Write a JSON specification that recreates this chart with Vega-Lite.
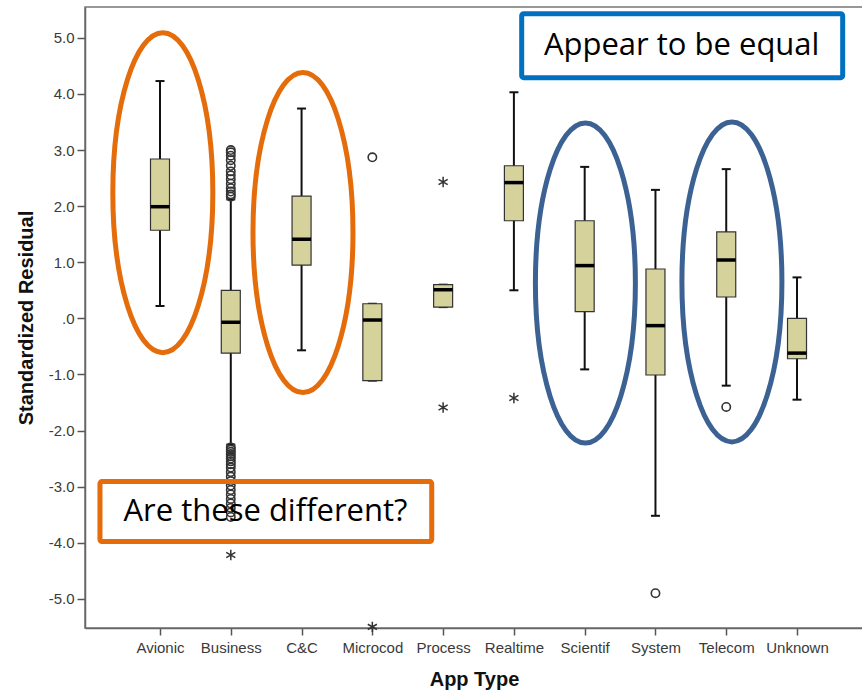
{
  "$schema": "https://vega.github.io/schema/vega-lite/v6.json",
  "width": 778,
  "height": 621,
  "autosize": {"type": "none"},
  "padding": {"left": 85, "top": 7, "right": 0, "bottom": 66},
  "background": "white",
  "config": {
    "view": {"stroke": "#777", "strokeWidth": 1.5},
    "axis": {
      "domainColor": "#666",
      "domainWidth": 1.5,
      "tickColor": "#555",
      "tickWidth": 1.5,
      "grid": false,
      "labelFont": "Liberation Sans",
      "labelFontSize": 15,
      "labelColor": "#3a3a3a",
      "titleFont": "Liberation Sans",
      "titleFontWeight": "bold",
      "titleFontSize": 20,
      "titleColor": "#111"
    }
  },
  "datasets": {
    "boxes": [
      {"type": "Avionic", "lo": 0.22, "q1": 1.57, "med": 1.99, "q3": 2.84, "hi": 4.23},
      {"type": "Business", "lo": -2.25, "q1": -0.62, "med": -0.07, "q3": 0.5, "hi": 2.12},
      {"type": "C&C", "lo": -0.57, "q1": 0.95, "med": 1.41, "q3": 2.18, "hi": 3.74},
      {"type": "Microcod", "lo": -1.11, "q1": -1.11, "med": -0.03, "q3": 0.26, "hi": 0.26},
      {"type": "Process", "lo": 0.2, "q1": 0.2, "med": 0.51, "q3": 0.6, "hi": 0.6},
      {"type": "Realtime", "lo": 0.5, "q1": 1.74, "med": 2.42, "q3": 2.72, "hi": 4.03},
      {"type": "Scientif", "lo": -0.91, "q1": 0.12, "med": 0.94, "q3": 1.74, "hi": 2.7},
      {"type": "System", "lo": -3.52, "q1": -1.01, "med": -0.13, "q3": 0.88, "hi": 2.29},
      {"type": "Telecom", "lo": -1.2, "q1": 0.38, "med": 1.04, "q3": 1.54, "hi": 2.66},
      {"type": "Unknown", "lo": -1.45, "q1": -0.72, "med": -0.62, "q3": 0.0, "hi": 0.73}
    ],
    "outliers": [
      {"type": "Business", "value": 3.0, "kind": "o"},
      {"type": "Business", "value": 2.96, "kind": "o"},
      {"type": "Business", "value": 2.9, "kind": "o"},
      {"type": "Business", "value": 2.82, "kind": "o"},
      {"type": "Business", "value": 2.72, "kind": "o"},
      {"type": "Business", "value": 2.62, "kind": "o"},
      {"type": "Business", "value": 2.55, "kind": "o"},
      {"type": "Business", "value": 2.48, "kind": "o"},
      {"type": "Business", "value": 2.4, "kind": "o"},
      {"type": "Business", "value": 2.32, "kind": "o"},
      {"type": "Business", "value": 2.26, "kind": "o"},
      {"type": "Business", "value": 2.21, "kind": "o"},
      {"type": "Business", "value": 2.17, "kind": "o"},
      {"type": "Business", "value": -2.3, "kind": "o"},
      {"type": "Business", "value": -2.34, "kind": "o"},
      {"type": "Business", "value": -2.38, "kind": "o"},
      {"type": "Business", "value": -2.42, "kind": "o"},
      {"type": "Business", "value": -2.46, "kind": "o"},
      {"type": "Business", "value": -2.5, "kind": "o"},
      {"type": "Business", "value": -2.55, "kind": "o"},
      {"type": "Business", "value": -2.6, "kind": "o"},
      {"type": "Business", "value": -2.66, "kind": "o"},
      {"type": "Business", "value": -2.74, "kind": "o"},
      {"type": "Business", "value": -2.82, "kind": "o"},
      {"type": "Business", "value": -2.9, "kind": "o"},
      {"type": "Business", "value": -2.98, "kind": "o"},
      {"type": "Business", "value": -3.06, "kind": "o"},
      {"type": "Business", "value": -3.14, "kind": "o"},
      {"type": "Business", "value": -3.22, "kind": "o"},
      {"type": "Business", "value": -3.3, "kind": "o"},
      {"type": "Business", "value": -3.38, "kind": "o"},
      {"type": "Business", "value": -3.46, "kind": "o"},
      {"type": "Business", "value": -3.54, "kind": "o"},
      {"type": "Business", "value": -4.22, "kind": "*"},
      {"type": "Microcod", "value": 2.87, "kind": "o"},
      {"type": "Microcod", "value": -5.5, "kind": "*"},
      {"type": "Process", "value": 2.43, "kind": "*"},
      {"type": "Process", "value": -1.59, "kind": "*"},
      {"type": "Realtime", "value": -1.42, "kind": "*"},
      {"type": "System", "value": -4.9, "kind": "o"},
      {"type": "Telecom", "value": -1.58, "kind": "o"}
    ],
    "rings": [
      {"group": "different", "x": 0.04, "y": 2.24},
      {"group": "different", "x": 2.02, "y": 1.53},
      {"group": "equal", "x": 6.01, "y": 0.63},
      {"group": "equal", "x": 8.08, "y": 0.65}
    ],
    "notes": [
      {"group": "equal", "label": "Appear to be equal", "x": 5.11, "x2": 9.645, "y": 5.43, "y2": 4.29, "cx": 7.37, "cy": 4.86},
      {"group": "different", "label": "Are these different?", "x": -0.848, "x2": 3.839, "y": -2.91, "y2": -3.98, "cx": 1.49, "cy": -3.46}
    ]
  },
  "layer": [
    {
      "layer": [
        {
          "data": {"name": "boxes"},
          "mark": {"type": "rule", "color": "#111", "strokeWidth": 2},
          "encoding": {
            "x": {
              "field": "type", "type": "nominal",
              "scale": {"type": "point", "domain": ["Avionic", "Business", "C&C", "Microcod", "Process", "Realtime", "Scientif", "System", "Telecom", "Unknown"], "padding": 0.996, "align": 0.532},
              "axis": {"title": "App Type", "labelAngle": 0, "tickSize": 7, "labelPadding": 5, "titlePadding": 14}
            },
            "y": {"field": "lo", "type": "quantitative", "scale": {"domain": [-5.52, 5.55], "nice": false, "zero": false},
              "axis": {"title": "Standardized Residual", "values": [-5, -4, -3, -2, -1, 0, 1, 2, 3, 4, 5], "labelExpr": "datum.value === 0 ? '.0' : (datum.value < 0 ? '-' : '') + format(abs(datum.value), '.1f')", "tickSize": 8, "labelPadding": 3, "titlePadding": 12}},
            "y2": {"field": "hi"}
          }
        },
        {
          "data": {"name": "boxes"},
          "mark": {"type": "tick", "color": "#111", "size": 9, "thickness": 2, "opacity": 1},
          "encoding": {
            "x": {"field": "type", "type": "nominal", "scale": {"type": "point", "domain": ["Avionic", "Business", "C&C", "Microcod", "Process", "Realtime", "Scientif", "System", "Telecom", "Unknown"], "padding": 0.996, "align": 0.532}, "axis": {"title": "App Type", "labelAngle": 0, "tickSize": 7, "labelPadding": 5, "titlePadding": 14}},
            "y": {"field": "lo", "type": "quantitative", "scale": {"domain": [-5.52, 5.55], "nice": false, "zero": false},
              "axis": {"title": "Standardized Residual", "values": [-5, -4, -3, -2, -1, 0, 1, 2, 3, 4, 5], "labelExpr": "datum.value === 0 ? '.0' : (datum.value < 0 ? '-' : '') + format(abs(datum.value), '.1f')", "tickSize": 8, "labelPadding": 3, "titlePadding": 12}}
          }
        },
        {
          "data": {"name": "boxes"},
          "mark": {"type": "tick", "color": "#111", "size": 9, "thickness": 2, "opacity": 1},
          "encoding": {
            "x": {"field": "type", "type": "nominal", "scale": {"type": "point", "domain": ["Avionic", "Business", "C&C", "Microcod", "Process", "Realtime", "Scientif", "System", "Telecom", "Unknown"], "padding": 0.996, "align": 0.532}, "axis": {"title": "App Type", "labelAngle": 0, "tickSize": 7, "labelPadding": 5, "titlePadding": 14}},
            "y": {"field": "hi", "type": "quantitative", "scale": {"domain": [-5.52, 5.55], "nice": false, "zero": false},
              "axis": {"title": "Standardized Residual", "values": [-5, -4, -3, -2, -1, 0, 1, 2, 3, 4, 5], "labelExpr": "datum.value === 0 ? '.0' : (datum.value < 0 ? '-' : '') + format(abs(datum.value), '.1f')", "tickSize": 8, "labelPadding": 3, "titlePadding": 12}}
          }
        },
        {
          "data": {"name": "boxes"},
          "mark": {"type": "bar", "size": 19, "fill": "#d6d29b", "stroke": "#333", "strokeWidth": 1.2},
          "encoding": {
            "x": {"field": "type", "type": "nominal", "scale": {"type": "point", "domain": ["Avionic", "Business", "C&C", "Microcod", "Process", "Realtime", "Scientif", "System", "Telecom", "Unknown"], "padding": 0.996, "align": 0.532}, "axis": {"title": "App Type", "labelAngle": 0, "tickSize": 7, "labelPadding": 5, "titlePadding": 14}},
            "y": {"field": "q1", "type": "quantitative", "scale": {"domain": [-5.52, 5.55], "nice": false, "zero": false},
              "axis": {"title": "Standardized Residual", "values": [-5, -4, -3, -2, -1, 0, 1, 2, 3, 4, 5], "labelExpr": "datum.value === 0 ? '.0' : (datum.value < 0 ? '-' : '') + format(abs(datum.value), '.1f')", "tickSize": 8, "labelPadding": 3, "titlePadding": 12}},
            "y2": {"field": "q3"}
          }
        },
        {
          "data": {"name": "boxes"},
          "mark": {"type": "tick", "color": "#000", "size": 19, "thickness": 3.5, "opacity": 1},
          "encoding": {
            "x": {"field": "type", "type": "nominal", "scale": {"type": "point", "domain": ["Avionic", "Business", "C&C", "Microcod", "Process", "Realtime", "Scientif", "System", "Telecom", "Unknown"], "padding": 0.996, "align": 0.532}, "axis": {"title": "App Type", "labelAngle": 0, "tickSize": 7, "labelPadding": 5, "titlePadding": 14}},
            "y": {"field": "med", "type": "quantitative", "scale": {"domain": [-5.52, 5.55], "nice": false, "zero": false},
              "axis": {"title": "Standardized Residual", "values": [-5, -4, -3, -2, -1, 0, 1, 2, 3, 4, 5], "labelExpr": "datum.value === 0 ? '.0' : (datum.value < 0 ? '-' : '') + format(abs(datum.value), '.1f')", "tickSize": 8, "labelPadding": 3, "titlePadding": 12}}
          }
        },
        {
          "data": {"name": "outliers"},
          "transform": [{"filter": "datum.kind === 'o'"}],
          "mark": {"type": "point", "shape": "circle", "size": 70, "filled": false, "stroke": "#333", "strokeWidth": 1.6, "opacity": 1},
          "encoding": {
            "x": {"field": "type", "type": "nominal", "scale": {"type": "point", "domain": ["Avionic", "Business", "C&C", "Microcod", "Process", "Realtime", "Scientif", "System", "Telecom", "Unknown"], "padding": 0.996, "align": 0.532}, "axis": {"title": "App Type", "labelAngle": 0, "tickSize": 7, "labelPadding": 5, "titlePadding": 14}},
            "y": {"field": "value", "type": "quantitative", "scale": {"domain": [-5.52, 5.55], "nice": false, "zero": false},
              "axis": {"title": "Standardized Residual", "values": [-5, -4, -3, -2, -1, 0, 1, 2, 3, 4, 5], "labelExpr": "datum.value === 0 ? '.0' : (datum.value < 0 ? '-' : '') + format(abs(datum.value), '.1f')", "tickSize": 8, "labelPadding": 3, "titlePadding": 12}}
          }
        },
        {
          "data": {"name": "outliers"},
          "transform": [{"filter": "datum.kind === '*'"}],
          "mark": {"type": "point", "shape": "M0,-1L0,1M-0.87,-0.5L0.87,0.5M-0.87,0.5L0.87,-0.5", "size": 110, "filled": false, "stroke": "#333", "strokeWidth": 1.5, "opacity": 1},
          "encoding": {
            "x": {"field": "type", "type": "nominal", "scale": {"type": "point", "domain": ["Avionic", "Business", "C&C", "Microcod", "Process", "Realtime", "Scientif", "System", "Telecom", "Unknown"], "padding": 0.996, "align": 0.532}, "axis": {"title": "App Type", "labelAngle": 0, "tickSize": 7, "labelPadding": 5, "titlePadding": 14}},
            "y": {"field": "value", "type": "quantitative", "scale": {"domain": [-5.52, 5.55], "nice": false, "zero": false},
              "axis": {"title": "Standardized Residual", "values": [-5, -4, -3, -2, -1, 0, 1, 2, 3, 4, 5], "labelExpr": "datum.value === 0 ? '.0' : (datum.value < 0 ? '-' : '') + format(abs(datum.value), '.1f')", "tickSize": 8, "labelPadding": 3, "titlePadding": 12}}
          }
        }
      ]
    },
    {
      "layer": [
        {
          "data": {"name": "rings"},
          "mark": {
            "type": "point",
            "shape": "M-0.3125,0A0.3125,1,0,1,0,0.3125,0A0.3125,1,0,1,0,-0.3125,0Z",
            "size": 102400,
            "filled": false,
            "strokeWidth": 5,
            "opacity": 1
          },
          "encoding": {
            "x": {"field": "x", "type": "quantitative", "scale": {"domain": [-1.0596, 9.932], "nice": false, "zero": false}, "axis": null},
            "y": {"field": "y", "type": "quantitative", "scale": {"domain": [-5.52, 5.55], "nice": false, "zero": false},
              "axis": {"title": "Standardized Residual", "values": [-5, -4, -3, -2, -1, 0, 1, 2, 3, 4, 5], "labelExpr": "datum.value === 0 ? '.0' : (datum.value < 0 ? '-' : '') + format(abs(datum.value), '.1f')", "tickSize": 8, "labelPadding": 3, "titlePadding": 12}},
            "stroke": {"condition": {"test": "datum.group === 'equal'", "value": "#3b6293"}, "value": "#e46c0a"}
          }
        },
        {
          "data": {"name": "notes"},
          "mark": {"type": "rect", "filled": false, "strokeWidth": 5, "cornerRadius": 2},
          "encoding": {
            "x": {"field": "x", "type": "quantitative", "scale": {"domain": [-1.0596, 9.932], "nice": false, "zero": false}, "axis": null},
            "x2": {"field": "x2"},
            "y": {"field": "y", "type": "quantitative", "scale": {"domain": [-5.52, 5.55], "nice": false, "zero": false},
              "axis": {"title": "Standardized Residual", "values": [-5, -4, -3, -2, -1, 0, 1, 2, 3, 4, 5], "labelExpr": "datum.value === 0 ? '.0' : (datum.value < 0 ? '-' : '') + format(abs(datum.value), '.1f')", "tickSize": 8, "labelPadding": 3, "titlePadding": 12}},
            "y2": {"field": "y2"},
            "stroke": {"condition": {"test": "datum.group === 'equal'", "value": "#0070c0"}, "value": "#e46c0a"}
          }
        },
        {
          "data": {"name": "notes"},
          "mark": {"type": "text", "font": "Open Sans", "fontSize": 31, "color": "#000", "align": "center", "baseline": "middle"},
          "encoding": {
            "x": {"field": "cx", "type": "quantitative", "scale": {"domain": [-1.0596, 9.932], "nice": false, "zero": false}, "axis": null},
            "y": {"field": "cy", "type": "quantitative", "scale": {"domain": [-5.52, 5.55], "nice": false, "zero": false},
              "axis": {"title": "Standardized Residual", "values": [-5, -4, -3, -2, -1, 0, 1, 2, 3, 4, 5], "labelExpr": "datum.value === 0 ? '.0' : (datum.value < 0 ? '-' : '') + format(abs(datum.value), '.1f')", "tickSize": 8, "labelPadding": 3, "titlePadding": 12}},
            "text": {"field": "label"}
          }
        }
      ]
    }
  ],
  "resolve": {"scale": {"x": "independent"}}
}
